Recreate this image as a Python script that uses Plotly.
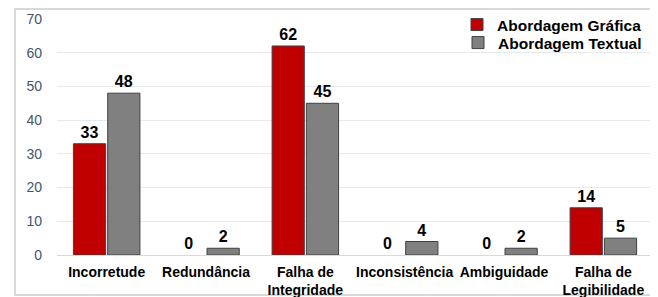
import plotly.graph_objects as go

categories = ["Incorretude", "Redundância", "Falha de<br>Integridade", "Inconsistência", "Ambiguidade", "Falha de<br>Legibilidade"]
grafica = [33, 0, 62, 0, 0, 14]
textual = [48, 2, 45, 4, 2, 5]
y_ticks = [0, 10, 20, 30, 40, 50, 60, 70]

FONT = "Liberation Sans, Arial, sans-serif"
OFF = 8  # browser default body margin

# figure-pixel geometry (reference pixel minus body margin)
FW, FH = 658 - OFF, 297 - OFF
W0, W1 = 57 - OFF, 653 - OFF
T0, B0 = 19 - OFF, 255 - OFF


def px_x(p):
    return (p - OFF - W0) / (W1 - W0)


def px_y(p):
    return (B0 - (p - OFF)) / (B0 - T0)


def lw(vals):
    return [1 if v > 0 else 0 for v in vals]


fig = go.Figure()
fig.add_trace(go.Bar(
    name="Abordagem Gráfica", x=categories, y=grafica, legend="legend",
    marker=dict(color="#C00000", line=dict(color="#404040", width=lw(grafica))),
    text=grafica, textposition="outside", cliponaxis=False,
    textfont=dict(family=FONT, size=16, color="#000000", weight="bold"),
))
fig.add_trace(go.Bar(
    name="Abordagem Textual", x=categories, y=textual, legend="legend2",
    marker=dict(color="#808080", line=dict(color="#404040", width=lw(textual))),
    text=textual, textposition="outside", cliponaxis=False,
    textfont=dict(family=FONT, size=16, color="#000000", weight="bold"),
))

legend_common = dict(
    xanchor="right", yanchor="middle", bgcolor="rgba(0,0,0,0)",
    font=dict(family=FONT, size=15.5, color="#000000", weight="bold"),
    itemwidth=30,
)

fig.update_layout(
    width=FW, height=FH,
    margin=dict(l=W0, r=FW - W1, t=T0, b=FH - B0, autoexpand=False),
    paper_bgcolor="white", plot_bgcolor="white",
    barmode="group", bargap=0.31, bargroupgap=0.06,
    font=dict(family=FONT, size=14, color="#000000"),
    showlegend=True,
    legend=dict(x=px_x(647), y=px_y(25), **legend_common),
    legend2=dict(x=px_x(647), y=px_y(43), **legend_common),
    xaxis=dict(
        showgrid=False, showline=True, linecolor="#d9d9d9", linewidth=1,
        ticks="", ticklabelstandoff=4, automargin=False,
        tickfont=dict(family=FONT, size=14, color="#000000", weight="bold"),
        fixedrange=True,
    ),
    yaxis=dict(
        range=[0, 70], tickvals=y_ticks, showgrid=True, gridcolor="#e6e9ee", gridwidth=1,
        zeroline=True, zerolinecolor="#d9d9d9", zerolinewidth=1, automargin=False,
        showline=False, ticks="", ticklabelstandoff=14,
        tickfont=dict(family=FONT, size=14, color="#44546A"),
    ),
    shapes=[dict(
        type="rect", xref="paper", yref="paper",
        x0=px_x(15), x1=px_x(657), y0=px_y(295), y1=px_y(9),
        line=dict(color="#d9d9d9", width=2), fillcolor="rgba(0,0,0,0)", layer="below",
    )],
)

fig.write_html("out.html")
